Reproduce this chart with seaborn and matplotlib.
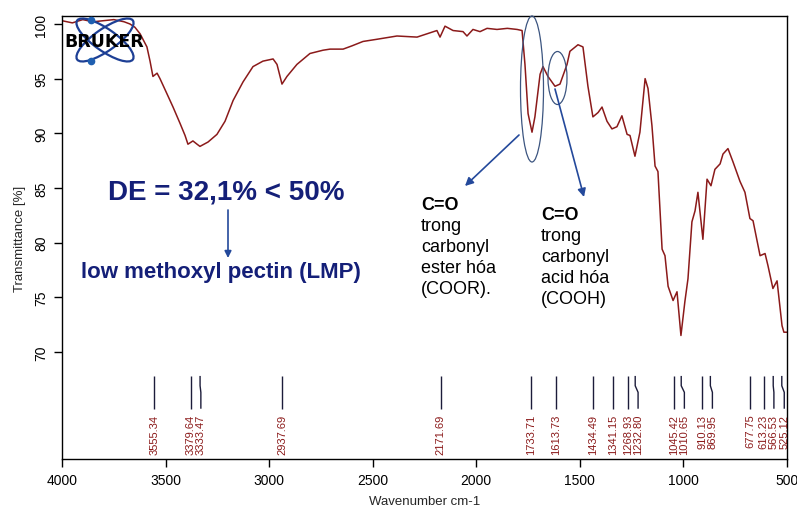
import numpy as np
import pandas as pd
import matplotlib
matplotlib.use("Agg")
import matplotlib.pyplot as plt
import seaborn as sns
from matplotlib.patches import Ellipse

# ---------------- data ----------------
wavenumber = [4000, 3950, 3900, 3850, 3800, 3750, 3700, 3672, 3648, 3623, 3590, 3575,
              3561, 3541, 3527, 3493, 3464, 3430, 3406, 3392, 3368, 3348, 3334, 3295,
              3252, 3213, 3174, 3126, 3078, 3030, 2981, 2962, 2938, 2914, 2866, 2803,
              2740, 2706, 2643, 2600, 2547, 2480, 2383, 2286, 2190, 2175, 2151, 2112,
              2064, 2045, 2016, 1982, 1948, 1900, 1850, 1803, 1779, 1765, 1750, 1731,
              1717, 1692, 1678, 1654, 1620, 1596, 1562, 1548, 1509, 1485, 1461, 1437,
              1412, 1393, 1369, 1345, 1321, 1297, 1272, 1258, 1234, 1210, 1185, 1171,
              1152, 1137, 1123, 1103, 1089, 1074, 1050, 1031, 1012, 993, 978, 959,
              944, 930, 906, 886, 867, 848, 823, 809, 785, 761, 727, 703, 679, 664,
              630, 606, 592, 568, 548, 524, 515, 500]
transmittance = [100.3, 100.1, 100.4, 100.2, 100.3, 100.4, 100.2, 100.0, 99.7, 99.1, 97.9, 96.6,
                 95.2, 95.5, 95.0, 93.6, 92.4, 90.9, 89.8, 89.0, 89.3, 89.0, 88.8, 89.2,
                 89.9, 91.1, 93.0, 94.7, 96.1, 96.6, 96.8, 96.3, 94.5, 95.2, 96.3, 97.3,
                 97.6, 97.7, 97.7, 98.0, 98.4, 98.6, 98.9, 98.8, 99.4, 98.8, 99.8, 99.4,
                 99.3, 98.9, 99.5, 99.3, 99.6, 99.5, 99.6, 99.5, 99.4, 96.3, 91.8, 90.1,
                 91.5, 95.4, 96.1, 95.2, 94.3, 94.5, 96.3, 97.5, 98.1, 97.9, 94.3, 91.5,
                 91.9, 92.4, 91.1, 90.4, 90.6, 91.6, 89.9, 89.8, 87.9, 90.1, 95.0, 94.1,
                 90.7, 87.0, 86.5, 79.4, 78.8, 76.0, 74.7, 75.5, 71.5, 74.6, 76.7, 81.9,
                 82.9, 84.6, 80.3, 85.8, 85.2, 86.7, 87.2, 88.1, 88.6, 87.4, 85.6, 84.6, 82.2, 82.0,
                 78.8, 79.0, 77.9, 75.8, 76.5, 72.4, 71.8, 71.8]
peaks = [3555.34, 3379.64, 3333.47, 2937.69, 2171.69, 1733.71, 1613.73, 1434.49,
         1341.15, 1268.93, 1232.80, 1045.42, 1010.65, 910.13, 869.95, 677.75,
         613.23, 566.53, 525.12]
x_ticks = [4000, 3500, 3000, 2500, 2000, 1500, 1000, 500]
y_ticks = [70, 75, 80, 85, 90, 95, 100]

df = pd.DataFrame({"Wavenumber": wavenumber, "Transmittance": transmittance})

# ---------------- style ----------------
sns.set_theme(style="white")
plt.rcParams['font.family'] = ['Liberation Sans', 'DejaVu Sans']

W, H = 797, 510
fig = plt.figure(figsize=(W / 100, H / 100), dpi=100)
ax = fig.add_axes([62 / W, 1 - 460 / H, 725 / W, (460 - 17) / H])

line_color = '#8b1a1a'
sns.lineplot(data=df, x="Wavenumber", y="Transmittance", ax=ax, color=line_color,
             linewidth=1.1, sort=False)

ax.set_xlim(4000, 500)
ax.set_ylim(60.2, 100.73)
ax.set_xticks(x_ticks)
ax.set_yticks(y_ticks)
ax.tick_params(direction='out', length=6, width=1, colors='black', labelsize=10,
               left=True, bottom=True, pad=4)
for lbl in ax.get_yticklabels():
    lbl.set_rotation(90)
    lbl.set_va('center')
for s in ax.spines.values():
    s.set_color('black')
    s.set_linewidth(1)
ax.set_xlabel('Wavenumber cm-1', fontsize=9.5, labelpad=6)
ax.set_ylabel('Transmittance [%]', fontsize=9.5, labelpad=6)
ax.grid(False)

# ---------------- peak markers ----------------
min_gap = 50.0
label_pos = []
for i, p in enumerate(peaks):
    if i == 0:
        label_pos.append(p)
    else:
        label_pos.append(min(p, label_pos[-1] - min_gap))
mark_color = '#1c1c3a'
for p, lp in zip(peaks, label_pos):
    ax.plot([p, p, lp, lp], [67.8, 66.9, 66.3, 64.8], color=mark_color, lw=1.0,
            solid_capstyle='butt')
    ax.text(lp, 64.35, f"{p:.2f}", rotation=90, ha='center', va='top',
            fontsize=8, color=line_color)

# ---------------- overlay annotations (figure pixel frame) ----------------
ov = fig.add_axes([0, 0, 1, 1], zorder=5)
ov.set_xlim(0, W)
ov.set_ylim(H, 0)
ov.axis('off')
ov.patch.set_alpha(0)

# Bruker logo
logo_blue = '#1d3f95'
for ang in (35, -35):
    ov.add_patch(Ellipse((105, 41), 68, 22, angle=ang, fill=False,
                         edgecolor=logo_blue, lw=1.6))
ov.plot([91, 91], [21, 62], 'o', color='#1f5fb0', markersize=4.5, lw=0)
ov.text(104, 42, 'BRUKER', ha='center', va='center', fontsize=12.5,
        fontweight='heavy', color='black', family=['DejaVu Sans'])

navy = '#141f78'
arrow_blue = '#24499b'
ov.text(226, 193, 'DE = 32,1% < 50%', ha='center', va='center', fontsize=20,
        fontweight='bold', color=navy)
ov.annotate('', xy=(228, 259), xytext=(228, 211),
            arrowprops=dict(arrowstyle='-|>', color=arrow_blue, lw=1.2,
                            mutation_scale=10, shrinkA=0, shrinkB=0))
ov.text(221, 273, 'low methoxyl pectin (LMP)', ha='center', va='center',
        fontsize=16, fontweight='bold', color=navy)

# ellipses around C=O peaks
ell_color = '#3c5580'
ov.add_patch(Ellipse((532, 90), 23, 146, fill=False, edgecolor=ell_color, lw=0.9))
ov.add_patch(Ellipse((557.5, 79), 19, 53, fill=False, edgecolor=ell_color, lw=0.9))
ov.annotate('', xy=(465, 187), xytext=(519, 136),
            arrowprops=dict(arrowstyle='-|>', color=arrow_blue, lw=1.2,
                            mutation_scale=12, shrinkA=0, shrinkB=0))
ov.annotate('', xy=(584, 198), xytext=(555, 90),
            arrowprops=dict(arrowstyle='-|>', color=arrow_blue, lw=1.2,
                            mutation_scale=12, shrinkA=0, shrinkB=0))

ester_lines = ['trong', 'carbonyl', 'ester hóa', '(COOR).']
acid_lines = ['trong', 'carbonyl', 'acid hóa', '(COOH)']
ov.text(421, 210, 'C=O', ha='left', va='baseline', fontsize=13, fontweight='bold',
        color='black')
for i, t in enumerate(ester_lines):
    ov.text(421, 231 + 21 * i, t, ha='left', va='baseline', fontsize=13, color='black')
ov.text(541, 220, 'C=O', ha='left', va='baseline', fontsize=13, fontweight='bold',
        color='black')
for i, t in enumerate(acid_lines):
    ov.text(541, 241 + 21 * i, t, ha='left', va='baseline', fontsize=13, color='black')

fig.savefig('out.png', dpi=100)
